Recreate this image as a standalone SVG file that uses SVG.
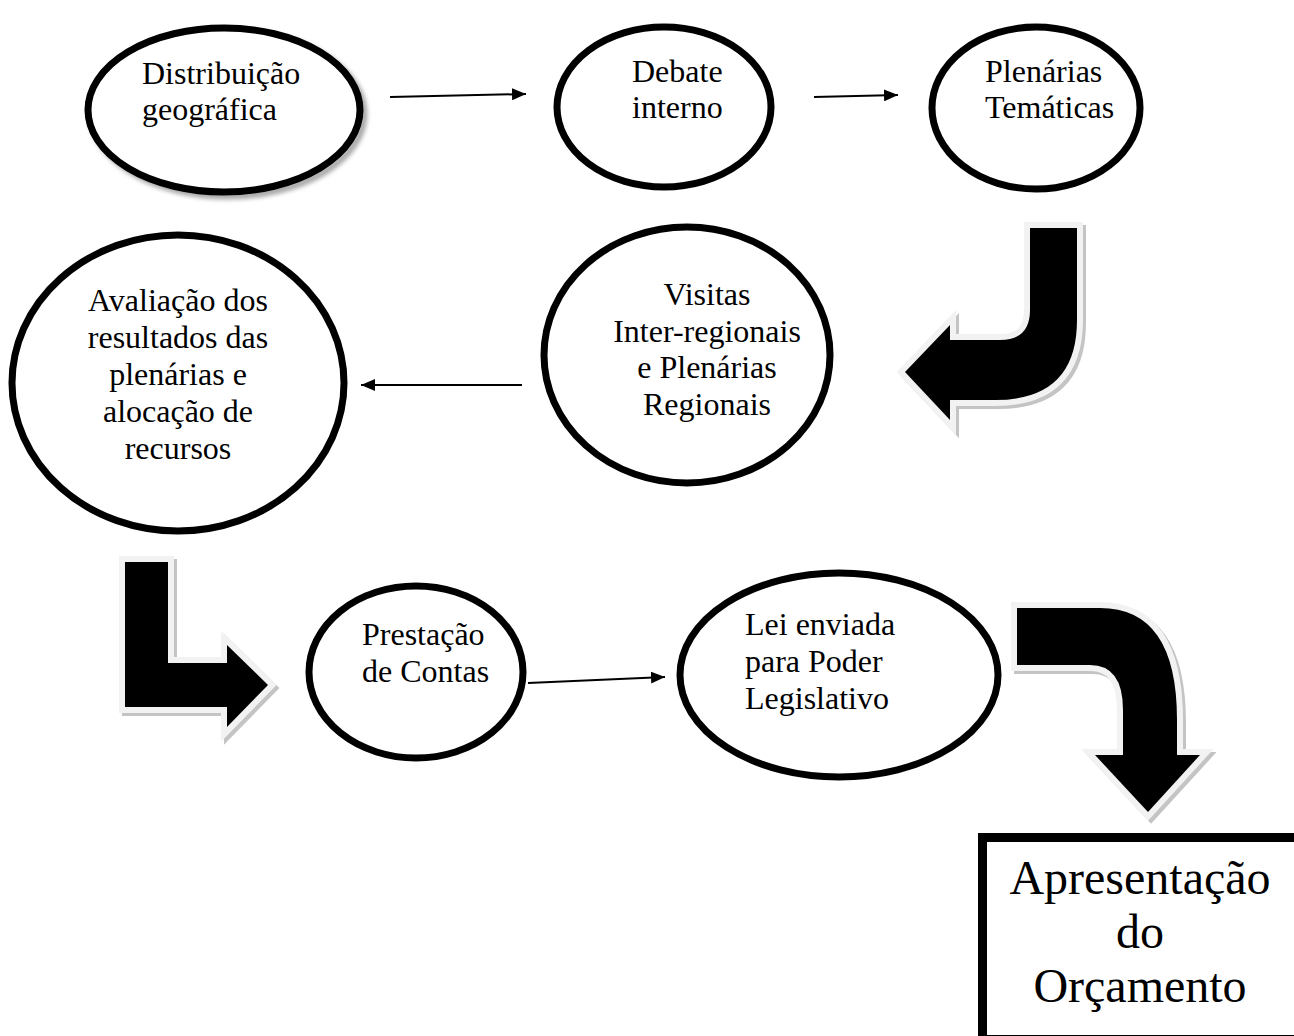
<svg xmlns="http://www.w3.org/2000/svg" width="1294" height="1036" viewBox="0 0 1294 1036">
<style>
.node{fill:#fff;stroke:#000;stroke-width:7}
.t{font-family:"Liberation Serif","Times New Roman",serif;font-size:32px;fill:#000}
.c{text-anchor:middle}
.big{font-family:"Liberation Serif","Times New Roman",serif;font-size:48px;fill:#000;text-anchor:middle}
.conn{stroke:#000;stroke-width:2;fill:none}
.bshadow{fill:#c4c4c4;stroke:#c4c4c4;stroke-width:12;stroke-linejoin:miter}
.barrow{fill:#000;stroke:#f2f2f2;stroke-width:12;stroke-linejoin:miter;paint-order:stroke}
</style>
<defs>
<marker id="ah" markerUnits="userSpaceOnUse" markerWidth="14" markerHeight="12" refX="14" refY="6" orient="auto">
<path d="M0,0 L14,6 L0,12 Z" fill="#000"/>
</marker>
<filter id="sh" x="-10%" y="-10%" width="130%" height="130%">
<feGaussianBlur stdDeviation="2"/>
</filter>
</defs>
<rect width="1294" height="1036" fill="#fff"/>

<g id="connectors">
<line class="conn" x1="390" y1="97" x2="526" y2="94" marker-end="url(#ah)"/>
<line class="conn" x1="814" y1="97" x2="898" y2="95" marker-end="url(#ah)"/>
<line class="conn" x1="522" y1="385" x2="361" y2="385" marker-end="url(#ah)"/>
<line class="conn" x1="528" y1="683" x2="665" y2="677" marker-end="url(#ah)"/>
<g id="arrow-j">
<path class="bshadow" transform="translate(3,3)" d="M1030 228 L1077 228 L1077 320 Q1077 400 995 400 L950 400 L950 420 L905 372 L950 325 L950 340 L1000 340 Q1030 340 1030 310 Z"/>
<path class="barrow" d="M1030 228 L1077 228 L1077 320 Q1077 400 995 400 L950 400 L950 420 L905 372 L950 325 L950 340 L1000 340 Q1030 340 1030 310 Z"/>
</g>
<g id="arrow-l">
<path class="bshadow" transform="translate(3,3)" d="M125 562 L168 562 L168 663 L227 663 L227 645 L268 685 L227 727 L227 707 L125 707 Z"/>
<path class="barrow" d="M125 562 L168 562 L168 663 L227 663 L227 645 L268 685 L227 727 L227 707 L125 707 Z"/>
</g>
<g id="arrow-down">
<path class="bshadow" transform="translate(3,3)" d="M1017 608 L1100 608 Q1177 608 1177 720 L1177 755 L1200 755 L1148 812 L1095 755 L1123 755 L1123 710 Q1123 665 1090 665 L1017 665 Z"/>
<path class="barrow" d="M1017 608 L1100 608 Q1177 608 1177 720 L1177 755 L1200 755 L1148 812 L1095 755 L1123 755 L1123 710 Q1123 665 1090 665 L1017 665 Z"/>
</g>
</g>

<g id="n1">
<ellipse cx="228" cy="114" rx="136" ry="82" fill="none" stroke="#a8a8a8" stroke-width="7" filter="url(#sh)"/>
<ellipse class="node" cx="224" cy="110" rx="136" ry="82"/>
<text class="t" x="142" y="84">Distribuição</text>
<text class="t" x="142" y="120">geográfica</text>
</g>
<g id="n2">
<ellipse class="node" cx="664" cy="107" rx="107" ry="80"/>
<text class="t" x="632" y="82">Debate</text>
<text class="t" x="632" y="118">interno</text>
</g>
<g id="n3">
<ellipse class="node" cx="1036" cy="108" rx="104" ry="81"/>
<text class="t" x="985" y="82">Plenárias</text>
<text class="t" x="985" y="118">Temáticas</text>
</g>
<g id="n4">
<ellipse class="node" cx="687" cy="355" rx="143" ry="128"/>
<text class="t c" x="707" y="305">Visitas</text>
<text class="t c" x="707" y="342">Inter-regionais</text>
<text class="t c" x="707" y="378">e Plenárias</text>
<text class="t c" x="707" y="415">Regionais</text>
</g>
<g id="n5">
<ellipse class="node" cx="178" cy="383" rx="166" ry="148"/>
<text class="t c" x="178" y="311">Avaliação dos</text>
<text class="t c" x="178" y="348">resultados das</text>
<text class="t c" x="178" y="385">plenárias e</text>
<text class="t c" x="178" y="422">alocação de</text>
<text class="t c" x="178" y="459">recursos</text>
</g>
<g id="n6">
<ellipse class="node" cx="416" cy="672" rx="107" ry="86"/>
<text class="t" x="362" y="645">Prestação</text>
<text class="t" x="362" y="682">de Contas</text>
</g>
<g id="n7">
<ellipse class="node" cx="839" cy="675" rx="159" ry="102"/>
<text class="t" x="745" y="635">Lei enviada</text>
<text class="t" x="745" y="672">para Poder</text>
<text class="t" x="745" y="709">Legislativo</text>
</g>
<g id="n8">
<rect x="982.5" y="837.5" width="400" height="202" fill="#fff" stroke="#000" stroke-width="9"/>
<text class="big" x="1140" y="894">Apresentação</text>
<text class="big" x="1140" y="948">do</text>
<text class="big" x="1140" y="1002">Orçamento</text>
</g>
</svg>
